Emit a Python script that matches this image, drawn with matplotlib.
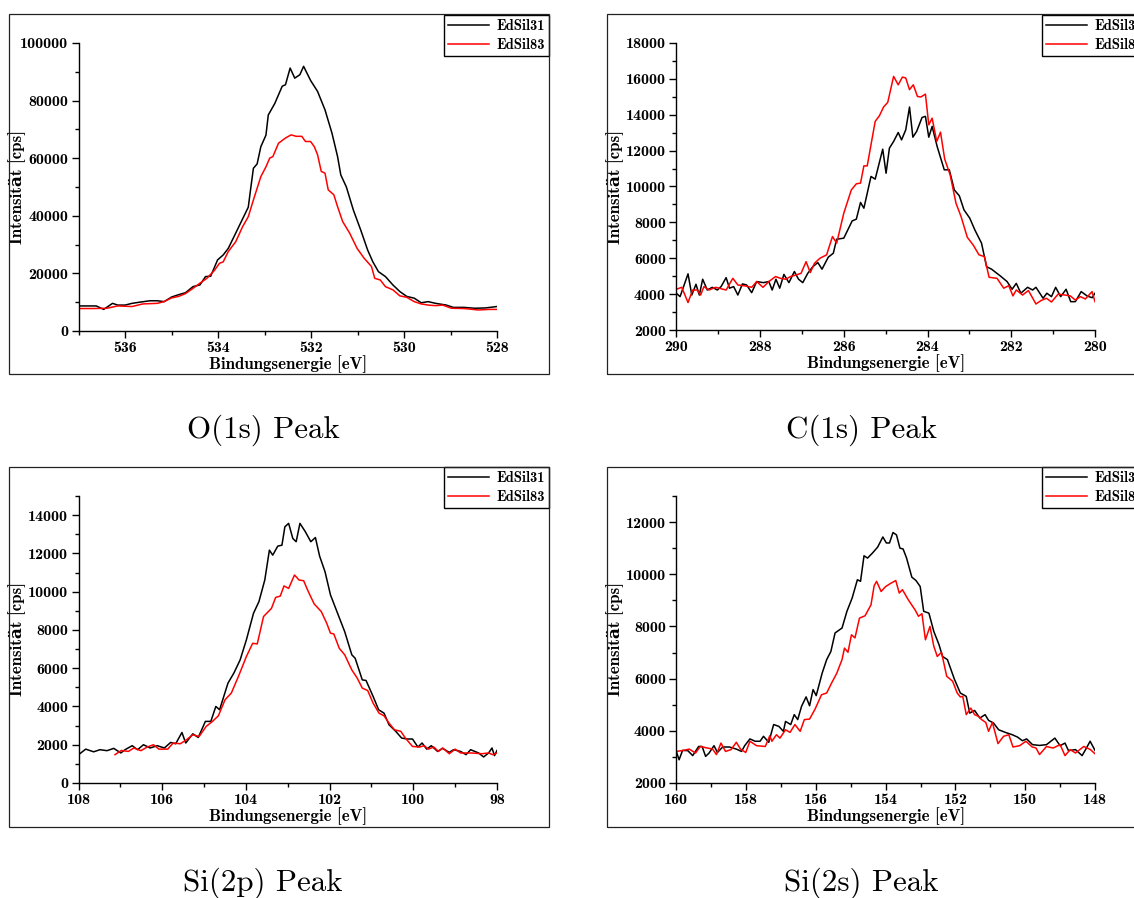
import matplotlib
matplotlib.use("Agg")
import matplotlib.pyplot as plt
from matplotlib.patches import Rectangle
from matplotlib.ticker import MultipleLocator

# O(1s)
o1s_x_31 = [537.00, 536.62, 536.46, 536.27, 536.16, 536.00, 535.85, 535.69, 535.46, 535.31,
            535.16, 535.00, 534.85, 534.70, 534.54, 534.39, 534.27, 534.16, 534.01, 533.89,
            533.78, 533.62, 533.47, 533.35, 533.31, 533.24, 533.16, 533.08, 532.97, 532.92,
            532.78, 532.62, 532.55, 532.45, 532.35, 532.24, 532.16, 532.01, 531.86, 531.70,
            531.55, 531.43, 531.36, 531.24, 531.09, 530.93, 530.78, 530.67, 530.55, 530.40,
            530.24, 530.09, 529.94, 529.78, 529.63, 529.48, 529.32, 529.09, 528.94, 528.71,
            528.48, 528.25, 528.00]
o1s_y_31 = [8700, 8700, 7500, 9600, 9000, 9000, 9600, 10000, 10500, 10500,
            10200, 11800, 12600, 13300, 15400, 16000, 18900, 19000, 24700, 26400,
            28700, 34000, 39000, 43000, 48000, 56500, 58000, 64000, 68000, 75000,
            79000, 85000, 85500, 91300, 87800, 89000, 91900, 87000, 83200, 76800,
            68700, 60600, 54200, 50000, 42000, 35000, 28000, 24000, 20600, 18900,
            16000, 13700, 12000, 11400, 9800, 10200, 9600, 9000, 8200, 8200,
            7900, 8000, 8500]
o1s_x_83 = [537.00, 536.69, 536.39, 536.16, 535.85, 535.62, 535.31, 535.16, 535.00, 534.85,
            534.70, 534.54, 534.39, 534.24, 534.08, 533.97, 533.89, 533.78, 533.62, 533.47,
            533.35, 533.24, 533.08, 532.97, 532.89, 532.82, 532.70, 532.55, 532.43, 532.32,
            532.20, 532.12, 532.01, 531.93, 531.86, 531.78, 531.70, 531.63, 531.51, 531.43,
            531.32, 531.17, 531.01, 530.86, 530.70, 530.63, 530.51, 530.40, 530.24, 530.09,
            529.94, 529.78, 529.63, 529.48, 529.32, 529.17, 528.98, 528.71, 528.40, 528.17,
            528.00]
o1s_y_83 = [7800, 7800, 7900, 8700, 8500, 9400, 9600, 10200, 11500, 12000,
            13000, 14800, 16600, 18300, 21000, 23500, 24000, 27600, 31000, 36300,
            39700, 45500, 53600, 57000, 60000, 60600, 65200, 67000, 68100, 67600,
            67600, 65800, 65800, 64000, 61200, 55400, 54800, 49000, 47300, 43200,
            38000, 34000, 28700, 25300, 22400, 18300, 17700, 15400, 14300, 12200,
            11700, 10200, 9400, 9000, 8800, 9000, 7900, 7800, 7300, 7500,
            7500]

# C(1s)
c1s_x_31 = [290.00, 289.91, 289.72, 289.63, 289.53, 289.45, 289.37, 289.26, 289.14, 289.02,
            288.93, 288.81, 288.73, 288.63, 288.53, 288.42, 288.32, 288.20, 288.08, 287.92,
            287.79, 287.71, 287.62, 287.53, 287.43, 287.31, 287.18, 287.08, 286.98, 286.86,
            286.74, 286.62, 286.52, 286.37, 286.25, 286.17, 286.00, 285.80, 285.70, 285.60,
            285.52, 285.35, 285.25, 285.07, 284.99, 284.91, 284.81, 284.70, 284.62, 284.52,
            284.43, 284.35, 284.26, 284.13, 284.05, 283.97, 283.89, 283.77, 283.60, 283.48,
            283.36, 283.24, 283.13, 282.99, 282.87, 282.71, 282.59, 282.47, 282.26, 282.10,
            281.98, 281.88, 281.77, 281.61, 281.49, 281.41, 281.24, 281.15, 281.04, 280.94,
            280.82, 280.69, 280.58, 280.47, 280.33, 280.19, 280.07, 280.00]
c1s_y_31 = [4050, 3860, 5130, 3950, 4550, 3950, 4830, 4230, 4380, 4230,
            4420, 4920, 4330, 4420, 3950, 4570, 4510, 4080, 4700, 4640,
            4700, 4230, 4830, 4330, 5100, 4640, 5260, 4830, 4640, 5160,
            5530, 5760, 5390, 6060, 6280, 7060, 7120, 8080, 8180, 9110,
            8790, 10560, 10410, 12080, 10740, 12140, 12510, 13010, 12600, 13160,
            14430, 12750, 13070, 13850, 13910, 12750, 13350, 12230, 10930, 10930,
            9810, 9480, 8700, 8230, 7580, 6840, 5530, 5390, 5010, 4700,
            4270, 4600, 4050, 4380, 4230, 4380, 3770, 4050, 3860, 4380,
            3860, 4270, 3580, 3580, 4140, 3900, 3800, 4050]
c1s_x_83 = [290.00, 289.87, 289.72, 289.61, 289.50, 289.42, 289.34, 289.22, 289.06, 288.81,
            288.65, 288.53, 288.36, 288.20, 288.08, 287.93, 287.79, 287.63, 287.51, 287.39,
            287.27, 287.14, 287.02, 286.90, 286.80, 286.70, 286.57, 286.41, 286.27, 286.17,
            286.00, 285.82, 285.70, 285.60, 285.52, 285.44, 285.25, 285.15, 285.05, 284.95,
            284.81, 284.70, 284.60, 284.52, 284.43, 284.34, 284.24, 284.16, 284.05, 283.97,
            283.89, 283.78, 283.69, 283.59, 283.46, 283.32, 283.20, 283.05, 282.91, 282.77,
            282.64, 282.53, 282.34, 282.18, 282.06, 281.96, 281.88, 281.73, 281.59, 281.41,
            281.29, 281.16, 281.04, 280.88, 280.72, 280.59, 280.47, 280.35, 280.23, 280.07,
            280.00]
c1s_y_83 = [4270, 4380, 3530, 4230, 4230, 3950, 4420, 4230, 4380, 4230,
            4880, 4510, 4460, 4380, 4700, 4380, 4700, 4980, 4880, 4830,
            4980, 5070, 5160, 5810, 5200, 5720, 6000, 6190, 7210, 6840,
            8510, 9810, 10150, 10190, 11150, 11150, 13630, 13940, 14430, 14690,
            16140, 15670, 16100, 16050, 15400, 15670, 15020, 14990, 15150, 13440,
            13810, 12510, 13030, 11530, 10650, 9070, 8330, 7170, 6740, 6190,
            6090, 4940, 4880, 4330, 4470, 3900, 4230, 3950, 4200, 3450,
            3640, 3770, 3560, 4000, 3950, 3900, 3670, 3860, 3730, 4140,
            3580]

# Si(2p)
si2p_x_31 = [108.00, 107.83, 107.64, 107.49, 107.32, 107.16, 106.99, 106.89, 106.72, 106.59,
             106.45, 106.29, 106.12, 105.95, 105.80, 105.68, 105.53, 105.44, 105.27, 105.14,
             104.97, 104.84, 104.72, 104.63, 104.43, 104.29, 104.14, 103.99, 103.82, 103.69,
             103.55, 103.44, 103.36, 103.24, 103.14, 103.07, 102.98, 102.88, 102.80, 102.71,
             102.58, 102.45, 102.34, 102.24, 102.11, 101.98, 101.81, 101.64, 101.47, 101.39,
             101.22, 101.13, 100.96, 100.83, 100.70, 100.58, 100.42, 100.28, 100.15, 100.02,
             99.89, 99.79, 99.68, 99.57, 99.42, 99.30, 99.14, 99.04, 98.87, 98.74,
             98.63, 98.44, 98.32, 98.20, 98.12, 98.06, 98.00]
si2p_y_31 = [1480, 1770, 1630, 1740, 1690, 1810, 1570, 1740, 1950, 1740,
             2000, 1830, 1950, 1830, 2120, 2050, 2640, 2090, 2570, 2380,
             3220, 3220, 4000, 3830, 5220, 5740, 6430, 7480, 8870, 9480,
             10610, 12170, 11910, 12380, 12430, 13390, 13570, 12780, 12610, 13570,
             13130, 12610, 12830, 11860, 11040, 9830, 8870, 7910, 6700, 6520,
             5390, 5360, 4520, 3830, 3650, 3040, 2700, 2350, 2300, 2300,
             1880, 2090, 1770, 1950, 1650, 1810, 1600, 1740, 1650, 1480,
             1740, 1570, 1360, 1570, 1830, 1430, 1700]
si2p_x_83 = [107.13, 106.98, 106.81, 106.68, 106.51, 106.36, 106.21, 106.08, 105.87, 105.74,
             105.57, 105.44, 105.27, 105.12, 104.95, 104.80, 104.66, 104.50, 104.35, 104.18,
             103.99, 103.84, 103.73, 103.58, 103.39, 103.29, 103.18, 103.09, 102.98, 102.84,
             102.73, 102.62, 102.52, 102.37, 102.20, 102.07, 101.98, 101.90, 101.77, 101.64,
             101.47, 101.34, 101.22, 101.09, 100.96, 100.82, 100.70, 100.58, 100.45, 100.30,
             100.19, 100.02, 99.85, 99.74, 99.64, 99.51, 99.40, 99.30, 99.14, 99.00,
             98.87, 98.61, 98.36, 98.20, 98.10, 98.00]
si2p_y_83 = [1480, 1700, 1650, 1830, 1690, 1880, 2000, 1770, 1770, 2090,
             2050, 2230, 2520, 2430, 2960, 3220, 3510, 4350, 4700, 5570,
             6610, 7300, 7270, 8700, 9130, 9700, 9770, 10300, 10170, 10870,
             10610, 10570, 10050, 9360, 8960, 8350, 7830, 7790, 7040, 6700,
             5910, 5480, 4960, 4830, 4170, 3650, 3510, 3130, 2780, 2700,
             2350, 1910, 1880, 1950, 1770, 1880, 1650, 1830, 1530, 1770,
             1570, 1570, 1530, 1570, 1480, 1570]

# Si(2s)
si2s_x_31 = [160.00, 159.92, 159.82, 159.67, 159.53, 159.36, 159.26, 159.16, 159.06, 158.92,
             158.82, 158.67, 158.48, 158.28, 158.13, 158.04, 157.89, 157.74, 157.60, 157.50,
             157.35, 157.21, 157.06, 156.93, 156.87, 156.72, 156.62, 156.52, 156.41, 156.28,
             156.18, 156.08, 155.99, 155.82, 155.69, 155.57, 155.45, 155.25, 155.11, 154.96,
             154.81, 154.72, 154.62, 154.52, 154.38, 154.23, 154.08, 153.98, 153.89, 153.79,
             153.69, 153.59, 153.50, 153.40, 153.25, 153.13, 153.01, 152.91, 152.76, 152.62,
             152.47, 152.37, 152.23, 152.03, 151.86, 151.69, 151.59, 151.45, 151.30, 151.15,
             151.05, 150.91, 150.76, 150.57, 150.37, 150.22, 150.08, 149.96, 149.79, 149.59,
             149.39, 149.15, 149.00, 148.86, 148.76, 148.56, 148.37, 148.27, 148.14, 148.00]
si2s_y_31 = [3210, 2890, 3250, 3240, 3050, 3400, 3400, 3020, 3150, 3430,
             3170, 3380, 3380, 3300, 3210, 3430, 3690, 3600, 3600, 3790,
             3560, 4240, 4170, 3980, 4360, 4240, 4620, 4430, 4940, 5300,
             4960, 5580, 5350, 6210, 6730, 7040, 7750, 7940, 8580, 9090,
             9790, 9730, 10710, 10620, 10810, 11040, 11430, 11200, 11200, 11600,
             11510, 11000, 10970, 10620, 9890, 9760, 9530, 8580, 8510, 7810,
             7300, 6850, 6730, 5980, 5450, 5320, 4680, 4780, 4490, 4620,
             4400, 4300, 4040, 3940, 3850, 3760, 3620, 3690, 3470, 3440,
             3470, 3720, 3430, 3530, 3240, 3280, 3050, 3280, 3600, 3250]
si2s_x_83 = [160.00, 159.79, 159.63, 159.45, 159.31, 159.11, 158.96, 158.85, 158.72, 158.59,
             158.43, 158.28, 158.16, 158.01, 157.89, 157.70, 157.45, 157.32, 157.26, 157.13,
             157.03, 156.87, 156.74, 156.60, 156.45, 156.33, 156.18, 156.02, 155.84, 155.69,
             155.55, 155.40, 155.25, 155.18, 155.08, 154.98, 154.88, 154.75, 154.59, 154.42,
             154.33, 154.26, 154.13, 154.00, 153.87, 153.71, 153.61, 153.52, 153.35, 153.15,
             153.06, 152.96, 152.86, 152.73, 152.62, 152.52, 152.40, 152.25, 152.08, 151.95,
             151.86, 151.79, 151.69, 151.56, 151.45, 151.33, 151.25, 151.13, 151.05, 150.94,
             150.78, 150.62, 150.47, 150.35, 150.16, 149.98, 149.80, 149.69, 149.59, 149.39,
             149.20, 149.00, 148.86, 148.71, 148.56, 148.32, 148.13, 148.00]
si2s_y_83 = [3210, 3250, 3300, 3150, 3400, 3340, 3300, 3090, 3530, 3210,
             3280, 3560, 3300, 3170, 3600, 3430, 3400, 3810, 3600, 3850,
             3720, 4040, 3940, 4240, 3980, 4430, 4450, 4840, 5380, 5450,
             5830, 6210, 6730, 7170, 7010, 7680, 7560, 8320, 8410, 8830,
             9560, 9730, 9340, 9530, 9640, 9760, 9280, 9410, 9020, 8620,
             8390, 8490, 7490, 8000, 7240, 6850, 7010, 6090, 5900, 5450,
             5300, 5320, 4620, 4870, 4620, 4550, 4430, 4320, 3980, 4320,
             3510, 3790, 3850, 3380, 3430, 3600, 3380, 3340, 3090, 3400,
             3340, 3470, 3050, 3280, 3150, 3400, 3280, 3120]

series_labels = ["EdSil31", "EdSil83"]
captions = ["O(1s) Peak", "C(1s) Peak", "Si(2p) Peak", "Si(2s) Peak"]

# cmb10 has no umlauts, fall back to a bold serif for those
plt.rcParams['font.family'] = ['cmb10', 'DejaVu Serif']
W, H = 1134, 898
fig = plt.figure(figsize=(W / 100, H / 100), dpi=100)


def rect(l, t, r, b):
    return [l / W, 1 - b / H, (r - l) / W, (b - t) / H]


panels = [
    # axes box (px), frame box (px), legend anchor, limits, caption position
    dict(ax=(78.6, 43, 497, 331), frame=(9, 14, 549, 374), leg=(549, 15, 'upper right'),
         xlim=(537, 528), ylim=(0, 100000), ymaj=20000,
         data=(o1s_x_31, o1s_y_31, o1s_x_83, o1s_y_83), cap=(263, 430)),
    dict(ax=(676.3, 43, 1095, 330), frame=(607, 14, 1160, 374), leg=(1042, 15, 'upper left'),
         xlim=(290, 280), ylim=(2000, 18000), ymaj=2000,
         data=(c1s_x_31, c1s_y_31, c1s_x_83, c1s_y_83), cap=(861, 430)),
    dict(ax=(78.6, 496, 497, 783), frame=(9, 467, 549, 827), leg=(549, 467, 'upper right'),
         xlim=(108, 98), ylim=(0, 15000), ymaj=2000,
         data=(si2p_x_31, si2p_y_31, si2p_x_83, si2p_y_83), cap=(263, 883)),
    dict(ax=(676.3, 496, 1095, 783), frame=(607, 467, 1160, 827), leg=(1042, 467, 'upper left'),
         xlim=(160, 148), ylim=(2000, 13000), ymaj=2000,
         data=(si2s_x_31, si2s_y_31, si2s_x_83, si2s_y_83), cap=(861, 883)),
]

for p, cap in zip(panels, captions):
    fl, ft, fr, fb = p['frame']
    fig.add_artist(Rectangle((fl / W, 1 - fb / H), (fr - fl) / W, (fb - ft) / H,
                             transform=fig.transFigure, fill=False, ec='#222222', lw=0.9))

    ax = fig.add_axes(rect(*p['ax']))
    x1, y1, x2, y2 = p['data']
    l1, = ax.plot(x1, y1, color='black', lw=1.1)
    l2, = ax.plot(x2, y2, color='#ff0000', lw=1.1)
    ax.set_xlim(*p['xlim'])
    ax.set_ylim(*p['ylim'])
    ax.xaxis.set_major_locator(MultipleLocator(2))
    ax.xaxis.set_minor_locator(MultipleLocator(1))
    ax.yaxis.set_major_locator(MultipleLocator(p['ymaj']))
    ax.yaxis.set_minor_locator(MultipleLocator(p['ymaj'] / 2))
    for s in ['top', 'right']:
        ax.spines[s].set_visible(False)
    for s in ['left', 'bottom']:
        ax.spines[s].set_linewidth(1.0)
    ax.tick_params(which='major', direction='out', length=5, width=1, labelsize=11.5, pad=2.5)
    ax.tick_params(which='minor', direction='out', length=3, width=1)
    ax.set_xlabel('Bindungsenergie [eV]', fontsize=12.2, va='top')
    ax.xaxis.set_label_coords(0.5, -0.085)
    ax.set_ylabel('Intensität [cps]', fontsize=12.2, fontweight='bold')
    ax.yaxis.set_label_coords(-0.125, 0.5)

    lx, ly, lloc = p['leg']
    leg = ax.legend([l1, l2], series_labels, loc=lloc,
                    bbox_to_anchor=(lx / W, 1 - ly / H), bbox_transform=fig.transFigure,
                    borderaxespad=0, fancybox=False, edgecolor='black', framealpha=1,
                    fontsize=10.5, handlelength=2.8, handletextpad=0.5, borderpad=0.3,
                    labelspacing=0.3)
    leg.get_frame().set_linewidth(1.0)

    fig.text(p['cap'][0] / W, 1 - p['cap'][1] / H, cap, family='cmr10', fontsize=22.3,
             ha='center', va='center')

fig.savefig('out.png', dpi=100)
